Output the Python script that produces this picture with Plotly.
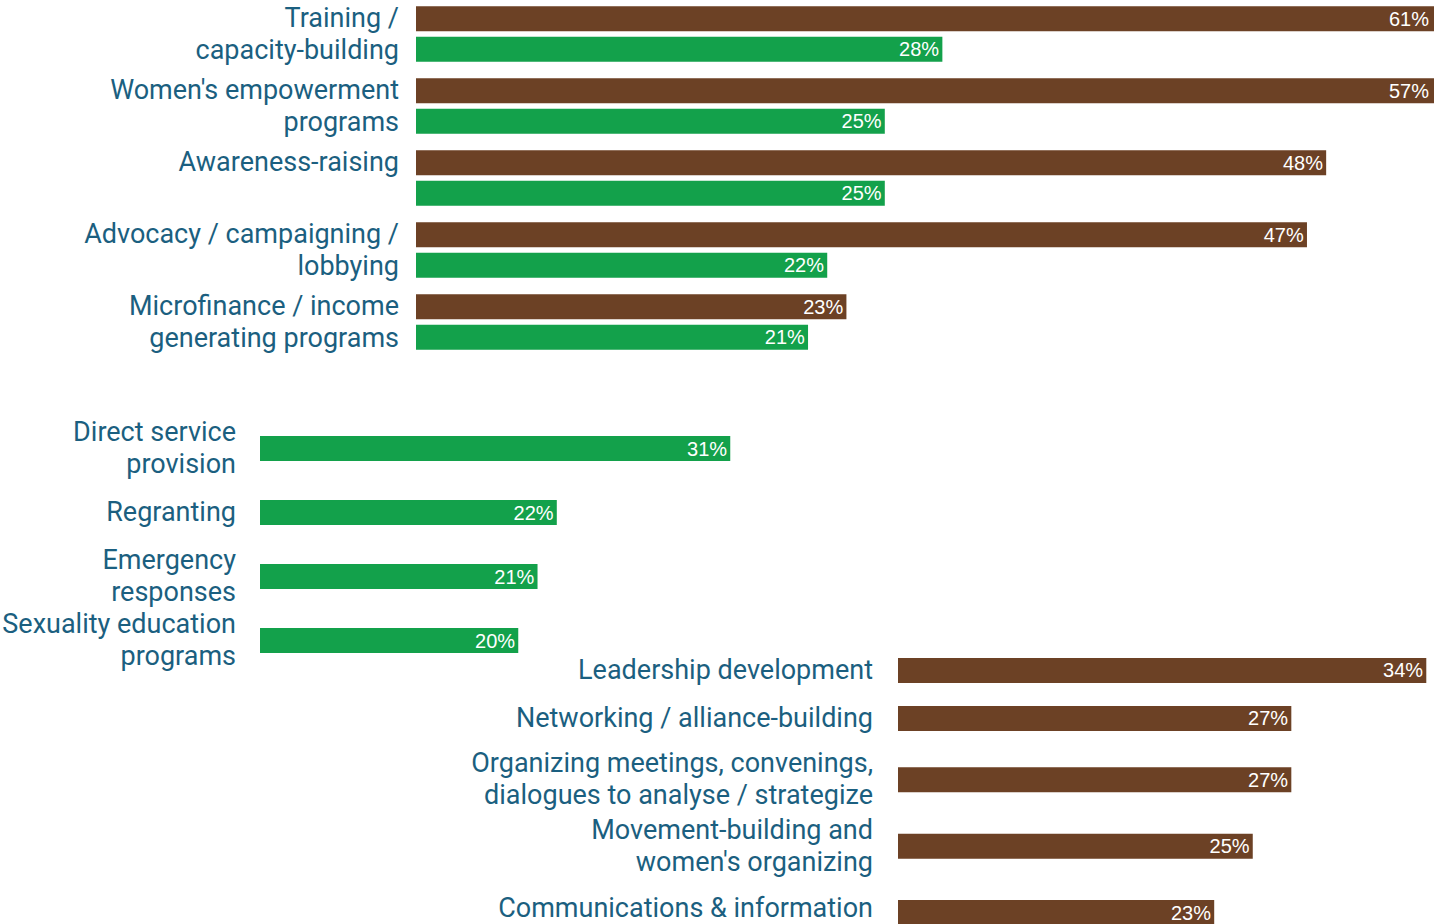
import plotly.graph_objects as go

# ---------------- data ----------------
cats_top = ["Training /<br>capacity-building",
            "Women's empowerment<br>programs",
            "Awareness-raising",
            "Advocacy / campaigning /<br>lobbying",
            "Microfinance / income<br>generating programs"]
brown_top = [61, 57, 48, 47, 23]
green_top = [28, 25, 25, 22, 21]

cats_mid = ["Direct service<br>provision",
            "Regranting",
            "Emergency<br>responses",
            "Sexuality education<br>programs"]
green_mid = [31, 22, 21, 20]

cats_bot = ["Leadership development",
            "Networking / alliance-building",
            "Organizing meetings, convenings,<br>dialogues to analyse / strategize",
            "Movement-building and<br>women's organizing",
            "Communications & information"]
brown_bot = [34, 27, 27, 25, 23]

# ---------------- style ----------------
BROWN = "#6C4125"
GREEN = "#13A14B"
LABEL = "#1B5F80"
W, H = 1434, 924
LABEL_PX = 27          # glyph size of category labels
LINE_FS = 24.6         # base size -> sets line spacing (1.3 * LINE_FS)
VAL_FONT = dict(family="Liberation Sans, Arial, sans-serif", size=20, color="white")
TOP_RANGE = [0.57, 53.62]
CLEAR = "rgba(0,0,0,0)"


def styled(lbl, min_lines=1):
    parts = lbl.split("<br>")
    out = "<br>".join(f"<span style='font-size:{LABEL_PX}px'>{s}</span>" for s in parts)
    return out + "<br>" * max(0, min_lines - len(parts))


fig = go.Figure()


def bar(x, y, color, xa, ya, width, offset, text=None):
    fig.add_trace(go.Bar(
        x=x, y=y, orientation="h", marker=dict(color=color, line=dict(width=0)),
        width=width, offset=offset, xaxis=xa, yaxis=ya,
        text=text if text is not None else [f"{v}%" for v in x],
        texttemplate="%{text}", textposition="inside", insidetextanchor="end",
        textangle=0, constraintext="none", textfont=VAL_FONT,
        showlegend=False, hoverinfo="skip"))


# top panel: pitch 72px, bars 25px thick, centers +-15.25px
top_text = [f"{v}%" if v <= TOP_RANGE[1] else "" for v in brown_top]
bar(brown_top, cats_top, BROWN, "x", "y", 0.347, -0.386, top_text)
bar(green_top, cats_top, GREEN, "x", "y", 0.347, 0.038)
# bars running past the right edge: label pinned at the edge
for v, c in zip(brown_top, cats_top):
    if v > TOP_RANGE[1]:
        fig.add_annotation(x=TOP_RANGE[1], y=c, xref="x", yref="y", text=f"{v}%",
                           showarrow=False, xanchor="right", yanchor="middle",
                           xshift=-3, yshift=0.212 * 72, font=VAL_FONT)
# middle panel
bar(green_mid, cats_mid, GREEN, "x2", "y2", 0.39, -0.195)
# bottom panel (sub-blocks with their own row pitch)
bar(brown_bot[:2], cats_bot[:2], BROWN, "x3", "y3", 25 / 48, -12.5 / 48)
bar(brown_bot[2:4], cats_bot[2:4], BROWN, "x4", "y4", 25 / 66.35, -12.5 / 66.35)
bar(brown_bot[4:], cats_bot[4:], BROWN, "x5", "y5", 0.5, -0.25)


def px_x(p):
    return p / W


def px_y(p):
    return 1 - p / H


common_x = dict(showgrid=False, zeroline=False, showticklabels=False, showline=False,
                fixedrange=True, automargin=False)


def yax(cats, domain, rng, standoff, min_lines=1, base_fs=LINE_FS):
    return dict(domain=domain, range=rng, type="category", tickmode="array",
                tickvals=cats, ticktext=[styled(c, min_lines) for c in cats],
                showgrid=False, zeroline=False, showline=False, ticks="",
                ticklabelstandoff=standoff, fixedrange=True, automargin=False,
                tickfont=dict(family="Roboto, sans-serif", size=base_fs, color=LABEL))


bot_x = dict(domain=[px_x(898), 1], range=[6.6, 34.4], **common_x)

fig.update_layout(
    width=W, height=H, margin=dict(l=0, r=0, t=0, b=0, autoexpand=False),
    paper_bgcolor="white", plot_bgcolor="rgba(0,0,0,0)",
    barmode="overlay",
    modebar=dict(bgcolor=CLEAR, color=CLEAR, activecolor=CLEAR),
    xaxis=dict(domain=[px_x(416), 1], range=TOP_RANGE, anchor="y", **common_x),
    yaxis=dict(anchor="x", **yax(cats_top, [px_y(360), 1], [4.528, -0.472], 16, 2)),
    xaxis2=dict(domain=[px_x(260), px_x(880)], range=[6.6, 38.77], anchor="y2", **common_x),
    yaxis2=dict(anchor="x2", **yax(cats_mid, [px_y(666), px_y(410)], [3.398, -0.6016], 23)),
    xaxis3=dict(anchor="y3", **bot_x),
    yaxis3=dict(anchor="x3", **yax(cats_bot[:2], [px_y(742), px_y(646)], [1.49, -0.51], 24)),
    xaxis4=dict(anchor="y4", **bot_x),
    yaxis4=dict(anchor="x4", **yax(cats_bot[2:4], [px_y(880), px_y(746)], [1.510, -0.509], 24)),
    xaxis5=dict(anchor="y5", **bot_x),
    yaxis5=dict(anchor="x5", **yax(cats_bot[4:], [0, px_y(880)], [0.23, -0.65], 24, 1, 13)),
)

fig.write_html("out.html", config={"displaylogo": False},
               post_script="document.body.style.margin='0';")
